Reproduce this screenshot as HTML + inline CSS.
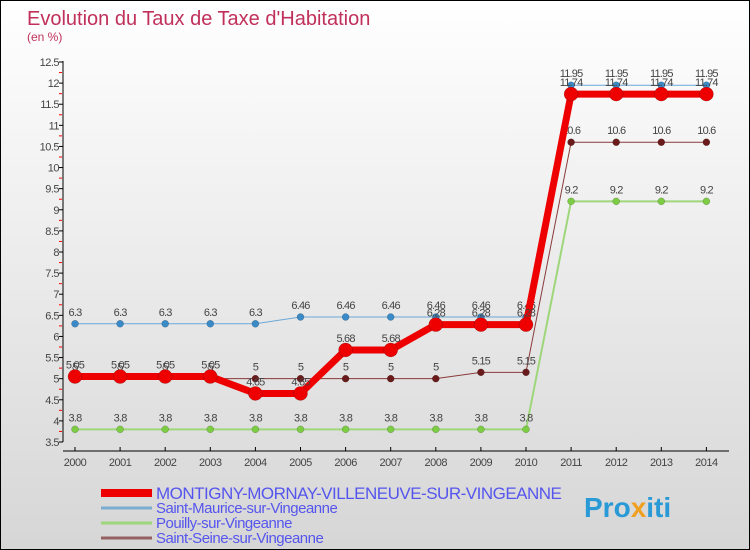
<!DOCTYPE html>
<html><head><meta charset="utf-8"><style>
body{margin:0;}
#c{width:748px;height:548px;border:1px solid #000;background:linear-gradient(#ffffff,#d6d6d6);position:relative;font-family:"Liberation Sans",sans-serif;overflow:hidden}
</style></head><body>
<div id="c">
<svg id="s" width="748" height="548" style="position:absolute;left:0;top:0">
<text x="26" y="24" font-size="20" fill="#c0305a">Evolution du Taux de Taxe d'Habitation</text>
<text x="26" y="40" font-size="12" fill="#c0305a">(en %)</text>
<g id="axes"></g><g id="series"></g><g id="legend"></g>
<text x="583" y="516" font-size="28" font-weight="bold" fill="#2a9ad6">Pro<tspan fill="#f0a020">x</tspan>iti</text>
</svg>
</div>
<script>
const years=[2000,2001,2002,2003,2004,2005,2006,2007,2008,2009,2010,2011,2012,2013,2014];
const yTicks=[3.5,4,4.5,5,5.5,6,6.5,7,7.5,8,8.5,9,9.5,10,10.5,11,11.5,12,12.5];
const montigny=[5.05,5.05,5.05,5.05,4.65,4.65,5.68,5.68,6.28,6.28,6.28,11.74,11.74,11.74,11.74];
const stMaurice=[6.3,6.3,6.3,6.3,6.3,6.46,6.46,6.46,6.46,6.46,6.46,11.95,11.95,11.95,11.95];
const pouilly=[3.8,3.8,3.8,3.8,3.8,3.8,3.8,3.8,3.8,3.8,3.8,9.2,9.2,9.2,9.2];
const stSeine=[5,5,5,5,5,5,5,5,5,5.15,5.15,10.6,10.6,10.6,10.6];
const NS="http://www.w3.org/2000/svg";
const xS=i=>74+i*45.1;
const yS=v=>441-(v-3.5)*(380/9);
function mk(t,a,p){const e=document.createElementNS(NS,t);for(const k in a)e.setAttribute(k,a[k]);p.appendChild(e);return e;}
const ax=document.getElementById('axes');
let l=mk('line',{x1:62,y1:60,x2:62,y2:441,stroke:'#000'},ax);


yTicks.forEach((v,i)=>{
  mk('line',{x1:58,y1:yS(v),x2:62,y2:yS(v),stroke:'#000'},ax);
  if(i<yTicks.length-1)mk('line',{x1:58,y1:yS(v+0.25),x2:61,y2:yS(v+0.25),stroke:'#f00'},ax);
  const t=mk('text',{x:58,y:yS(v)+4,'font-size':11,fill:'#444','text-anchor':'end','letter-spacing':'-0.5'},ax);
  t.textContent=String(v);
  
  
});
l=mk('line',{x1:62,y1:450,x2:728,y2:450,stroke:'#000'},ax);


years.forEach((y,i)=>{
  mk('line',{x1:xS(i),y1:446,x2:xS(i),y2:450,stroke:'#000'},ax);
  const t=mk('text',{x:xS(i),y:465,'font-size':11,fill:'#444','text-anchor':'middle','letter-spacing':'-0.5'},ax);
  t.textContent=y;
  
  
});
const sg=document.getElementById('series');
function series(name,vals,col,w,r,dot){
  const g=mk('g',{},sg);
  
  
  mk('polyline',{points:vals.map((v,i)=>xS(i)+','+yS(v)).join(' '),fill:'none',stroke:col,'stroke-width':w},g);
  vals.forEach((v,i)=>{
    const c=mk('circle',{cx:xS(i),cy:yS(v),r:r,fill:dot,stroke:'rgba(0,0,0,0.3)','stroke-width':0.5},g);
    
    
    const t=mk('text',{x:xS(i),y:yS(v)-8,'font-size':11,fill:'#444','text-anchor':'middle','letter-spacing':'-0.8'},g);
    t.textContent=String(v);
    
    
  });
}
series('pouilly-series',pouilly,'#9ed67a',2,3.5,'#7ccc44');
series('saint-seine-series',stSeine,'#8a3a3a',1,3.5,'#6a1a1a');
series('saint-maurice-series',stMaurice,'#6aa8d8',1,3.5,'#3a8ac8');
series('montigny-series',montigny,'#ee0000',7,7,'#ee0000');
const lg=document.getElementById('legend');
const items=[['MONTIGNY-MORNAY-VILLENEUVE-SUR-VINGEANNE','#ee0000',8,17,492],['Saint-Maurice-sur-Vingeanne','#7aaed0',3,15,507],['Pouilly-sur-Vingeanne','#9ed67a',3,15,522],['Saint-Seine-sur-Vingeanne','#956060',3,15,537]];
items.forEach(([n,c,w,fs,y])=>{
  const g=mk('g',{},lg);
  
  
  mk('line',{x1:100,y1:y,x2:151,y2:y,stroke:c,'stroke-width':w},g);
  const t=mk('text',{x:155,y:y+(fs>15?6:5),'font-size':fs,fill:'#5555ee','letter-spacing':'-0.5'},g);
  t.textContent=n;
});
</script>
</body></html>
